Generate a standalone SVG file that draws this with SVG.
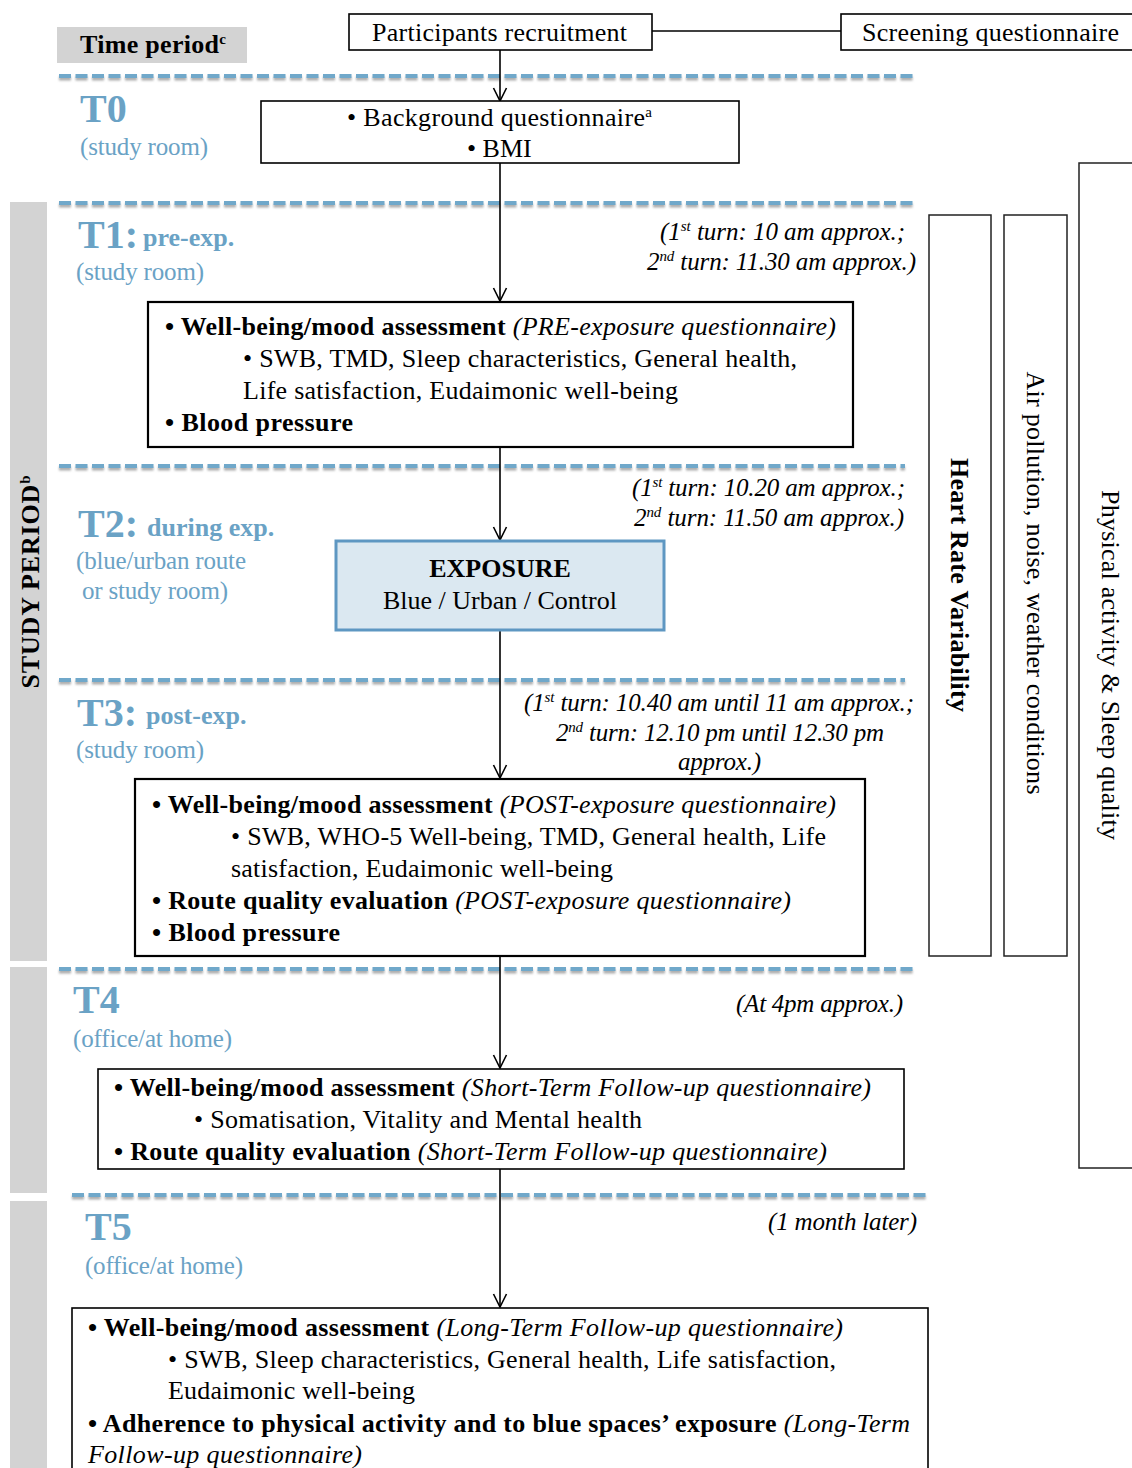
<svg xmlns="http://www.w3.org/2000/svg" width="1132" height="1468" viewBox="0 0 1132 1468">
<defs>
<style>
.t{font-family:"Liberation Serif","Times New Roman",serif;fill:#000}
.body{font-size:26px}
.b{font-weight:bold}
.i{font-style:italic}
.note{font-size:25px;font-style:italic}
.lbl{font-family:"Liberation Serif","Times New Roman",serif;fill:#6aa2c5}
.big{font-size:40px;font-weight:bold}
.sub{font-size:26px;font-weight:bold}
.loc{font-size:25px}
.box{fill:#fff;stroke:#000;stroke-width:1.6}
.boxt{fill:#fff;stroke:#000;stroke-width:2.2}
.side{fill:none;stroke:#222;stroke-width:1.5}
.gray{fill:#d3d3d3}
.dash{stroke:#6fa8ca;stroke-width:4;stroke-dasharray:12 4.5;fill:none}
.conn{stroke:#000;stroke-width:1.6;fill:none}
</style>
<marker id="arr" viewBox="0 0 16 16" refX="15" refY="8" markerWidth="16" markerHeight="16" markerUnits="userSpaceOnUse" orient="auto">
<path d="M2,1.5 L15,8 L2,14.5" fill="none" stroke="#000" stroke-width="1.6"/>
</marker>
<filter id="sh" x="-5%" y="-200%" width="110%" height="500%">
<feDropShadow dx="0" dy="2.5" stdDeviation="1.2" flood-color="#888" flood-opacity="0.7"/>
</filter>
</defs>

<g id="side-bars">
<rect class="gray" x="10" y="202" width="37" height="759"/>
<rect class="gray" x="10" y="967" width="37" height="226"/>
<rect class="gray" x="10" y="1201" width="37" height="270"/>
<text class="t b" font-size="26" transform="translate(39,582) rotate(-90)" text-anchor="middle" textLength="213" lengthAdjust="spacing">STUDY  PERIOD<tspan font-size="15" dy="-9">b</tspan></text>
</g>

<g id="time-period">
<rect class="gray" x="57" y="27" width="190" height="36"/>
<text class="t b" font-size="26" x="80" y="53" textLength="146" lengthAdjust="spacing">Time period<tspan font-size="15" dy="-9">c</tspan></text>
</g>

<g id="separators" filter="url(#sh)">
<line class="dash" x1="59" y1="76" x2="915" y2="76"/>
<line class="dash" x1="59" y1="203" x2="915" y2="203"/>
<line class="dash" x1="59" y1="466" x2="905" y2="466"/>
<line class="dash" x1="59" y1="680" x2="905" y2="680"/>
<line class="dash" x1="59" y1="969" x2="915" y2="969"/>
<line class="dash" x1="72" y1="1195" x2="928" y2="1195"/>
</g>

<g id="labels">
<text class="lbl big" x="80" y="122">T0</text>
<text class="lbl loc" x="80" y="155" textLength="128" lengthAdjust="spacing">(study room)</text>
<text class="lbl big" x="78" y="248">T1:</text>
<text class="lbl sub" x="143" y="246">pre-exp.</text>
<text class="lbl loc" x="76" y="280" textLength="128" lengthAdjust="spacing">(study room)</text>
<text class="lbl big" x="78" y="537">T2:</text>
<text class="lbl sub" x="147" y="536">during exp.</text>
<text class="lbl loc" x="76" y="569" textLength="170" lengthAdjust="spacing">(blue/urban route</text>
<text class="lbl loc" x="82" y="599" textLength="146" lengthAdjust="spacing">or study room)</text>
<text class="lbl big" x="77" y="726">T3:</text>
<text class="lbl sub" x="146" y="724">post-exp.</text>
<text class="lbl loc" x="76" y="758" textLength="128" lengthAdjust="spacing">(study room)</text>
<text class="lbl big" x="73" y="1013">T4</text>
<text class="lbl loc" x="73" y="1047" textLength="159" lengthAdjust="spacing">(office/at home)</text>
<text class="lbl big" x="85" y="1240">T5</text>
<text class="lbl loc" x="85" y="1274" textLength="158" lengthAdjust="spacing">(office/at home)</text>
</g>

<g id="notes">
<text class="t note" x="660" y="240" textLength="245" lengthAdjust="spacing">(1<tspan font-size="15" dy="-9">st</tspan><tspan dy="9"> turn: 10 am approx.;</tspan></text>
<text class="t note" x="647" y="270" textLength="269" lengthAdjust="spacing">2<tspan font-size="15" dy="-9">nd</tspan><tspan dy="9"> turn: 11.30 am approx.)</tspan></text>
<text class="t note" x="632" y="496" textLength="273" lengthAdjust="spacing">(1<tspan font-size="15" dy="-9">st</tspan><tspan dy="9"> turn: 10.20 am approx.;</tspan></text>
<text class="t note" x="634" y="526" textLength="270" lengthAdjust="spacing">2<tspan font-size="15" dy="-9">nd</tspan><tspan dy="9"> turn: 11.50 am approx.)</tspan></text>
<text class="t note" x="524" y="711" textLength="390" lengthAdjust="spacing">(1<tspan font-size="15" dy="-9">st</tspan><tspan dy="9"> turn: 10.40 am until 11 am approx.;</tspan></text>
<text class="t note" x="556" y="741" textLength="328" lengthAdjust="spacing">2<tspan font-size="15" dy="-9">nd</tspan><tspan dy="9"> turn: 12.10 pm until 12.30 pm</tspan></text>
<text class="t note" x="678" y="770" textLength="83" lengthAdjust="spacing">approx.)</text>
<text class="t note" x="736" y="1012" textLength="167" lengthAdjust="spacing">(At 4pm approx.)</text>
<text class="t note" x="768" y="1230" textLength="149" lengthAdjust="spacing">(1 month later)</text>
</g>

<g id="connectors">
<line class="conn" x1="652" y1="31" x2="841" y2="31"/>
<line class="conn" x1="500" y1="50" x2="500" y2="101" marker-end="url(#arr)"/>
<line class="conn" x1="500" y1="163" x2="500" y2="301" marker-end="url(#arr)"/>
<line class="conn" x1="500" y1="447" x2="500" y2="540" marker-end="url(#arr)"/>
<line class="conn" x1="500" y1="630" x2="500" y2="778" marker-end="url(#arr)"/>
<line class="conn" x1="500" y1="956" x2="500" y2="1068" marker-end="url(#arr)"/>
<line class="conn" x1="500" y1="1169" x2="500" y2="1307" marker-end="url(#arr)"/>
</g>

<g id="node-recruitment">
<rect class="box" x="349" y="14" width="303" height="36"/>
<text class="t body" x="372" y="41" textLength="255" lengthAdjust="spacing">Participants recruitment</text>
</g>

<g id="node-screening">
<rect class="box" x="841" y="14" width="300" height="36"/>
<text class="t body" x="862" y="41" textLength="257" lengthAdjust="spacing">Screening questionnaire</text>
</g>

<g id="node-t0">
<rect class="box" x="261" y="101" width="478" height="62"/>
<text class="t body" x="347" y="126" textLength="305" lengthAdjust="spacing">• Background questionnaire<tspan font-size="15" dy="-9">a</tspan></text>
<text class="t body" x="467" y="157">• BMI</text>
</g>

<g id="node-t1">
<rect class="boxt" x="148" y="302" width="705" height="145"/>
<text class="t body" x="165" y="335" textLength="671" lengthAdjust="spacing"><tspan class="b">• Well-being/mood  assessment</tspan> <tspan class="i">(PRE-exposure questionnaire)</tspan></text>
<text class="t body" x="243" y="367" textLength="554" lengthAdjust="spacing">• SWB, TMD, Sleep characteristics, General health,</text>
<text class="t body" x="243" y="399" textLength="435" lengthAdjust="spacing">Life satisfaction, Eudaimonic well-being</text>
<text class="t body b" x="165" y="431" textLength="188" lengthAdjust="spacing">• Blood pressure</text>
</g>

<g id="node-exposure">
<rect x="336" y="541" width="328" height="89" fill="#dbe8f1" stroke="#5e97c2" stroke-width="3"/>
<text class="t body b" x="500" y="577" text-anchor="middle">EXPOSURE</text>
<text class="t body" x="500" y="609" text-anchor="middle">Blue / Urban / Control</text>
</g>

<g id="node-t3">
<rect class="boxt" x="135" y="779" width="730" height="177"/>
<text class="t body" x="152" y="813" textLength="684" lengthAdjust="spacing"><tspan class="b">• Well-being/mood  assessment</tspan> <tspan class="i">(POST-exposure questionnaire)</tspan></text>
<text class="t body" x="231" y="845" textLength="595" lengthAdjust="spacing">• SWB, WHO-5 Well-being, TMD, General health, Life</text>
<text class="t body" x="231" y="877" textLength="382" lengthAdjust="spacing">satisfaction, Eudaimonic well-being</text>
<text class="t body" x="152" y="909" textLength="639" lengthAdjust="spacing"><tspan class="b">• Route quality evaluation</tspan>  <tspan class="i">(POST-exposure questionnaire)</tspan></text>
<text class="t body b" x="152" y="941" textLength="188" lengthAdjust="spacing">• Blood pressure</text>
</g>

<g id="node-t4">
<rect class="box" x="98" y="1069" width="806" height="100"/>
<text class="t body" x="114" y="1096" textLength="757" lengthAdjust="spacing"><tspan class="b">• Well-being/mood  assessment</tspan> <tspan class="i">(Short-Term Follow-up questionnaire)</tspan></text>
<text class="t body" x="194" y="1128" textLength="448" lengthAdjust="spacing">• Somatisation, Vitality and Mental health</text>
<text class="t body" x="114" y="1160" textLength="713" lengthAdjust="spacing"><tspan class="b">• Route quality evaluation</tspan>  <tspan class="i">(Short-Term Follow-up questionnaire)</tspan></text>
</g>

<g id="node-t5">
<rect class="box" x="72" y="1308" width="856" height="180"/>
<text class="t body" x="88" y="1336" textLength="755" lengthAdjust="spacing"><tspan class="b">• Well-being/mood  assessment</tspan> <tspan class="i">(Long-Term Follow-up  questionnaire)</tspan></text>
<text class="t body" x="168" y="1368" textLength="668" lengthAdjust="spacing">• SWB, Sleep characteristics, General health, Life satisfaction,</text>
<text class="t body" x="168" y="1399" textLength="247" lengthAdjust="spacing">Eudaimonic well-being</text>
<text class="t body" x="88" y="1432" textLength="822" lengthAdjust="spacing"><tspan class="b">• Adherence to physical activity and to blue spaces’ exposure</tspan> <tspan class="i">(Long-Term</tspan></text>
<text class="t body i" x="88" y="1463" textLength="274" lengthAdjust="spacing">Follow-up  questionnaire)</text>
</g>

<g id="node-hrv">
<rect class="side" x="929" y="215" width="62" height="741"/>
<text class="t b" font-size="26" transform="translate(951,585) rotate(90)" text-anchor="middle" textLength="254" lengthAdjust="spacing">Heart Rate Variability</text>
</g>

<g id="node-air">
<rect class="side" x="1004" y="215" width="63" height="741"/>
<text class="t" font-size="26" transform="translate(1027,583) rotate(90)" text-anchor="middle" textLength="423" lengthAdjust="spacing">Air pollution, noise, weather conditions</text>
</g>

<g id="node-physical">
<rect class="side" x="1079" y="163" width="70" height="1005"/>
<text class="t" font-size="26" transform="translate(1102,665) rotate(90)" text-anchor="middle" textLength="350" lengthAdjust="spacing">Physical activity  &amp; Sleep quality</text>
</g>
</svg>
